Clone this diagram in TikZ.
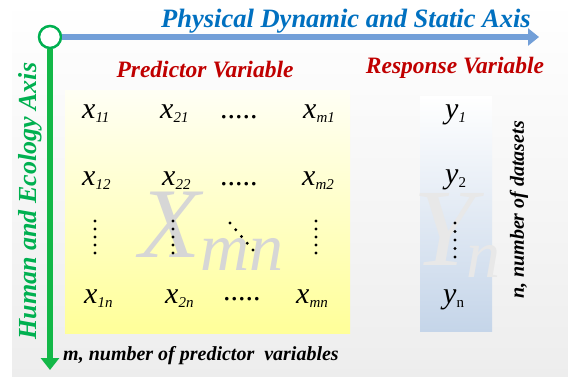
\documentclass[tikz,border=0pt]{standalone}
\usepackage{fontspec}
\setmainfont{Liberation Serif}
\usetikzlibrary{arrows.meta, positioning}

\definecolor{titleblue}{RGB}{0,112,192}
\definecolor{axisblue}{RGB}{114,159,216}
\definecolor{axisgreen}{RGB}{0,176,80}
\definecolor{labelred}{RGB}{192,0,0}
\definecolor{bigtext}{RGB}{214,214,214}
\definecolor{boxblue}{RGB}{197,213,233}

% matrix element: letter with a lowered index
\newcommand{\mvar}[2]{\textit{#1}\raisebox{-4pt}{\fontsize{15}{15}\selectfont\textit{#2}}}
\newcommand{\mvarup}[2]{\textit{#1}\raisebox{-4pt}{\fontsize{15}{15}\selectfont #2}}

\begin{document}
\begin{tikzpicture}[x=1pt, y=-1pt,
    heading/.style={font=\fontsize{23.5}{26}\selectfont\bfseries\itshape, text=labelred, inner sep=0pt, anchor=base},
    entry/.style={font=\fontsize{30}{32}\selectfont, inner sep=0pt, anchor=base west},
    note/.style={font=\fontsize{20}{22}\selectfont\bfseries\itshape, inner sep=0pt},
    bigvar/.style={text=bigtext, inner sep=0pt, anchor=base west}]
    \useasboundingbox (0,0) rectangle (568,376);

    % light grey page behind everything
    \fill[top color=white, bottom color=black!7] (12,0) rectangle (568,376);

    % shaded boxes for X and Y
    \fill[top color=yellow!4, bottom color=yellow!40] (65,90) rectangle (350,333);
    \fill[top color=white, bottom color=boxblue] (420,96) rectangle (492,331);

    % big faint names of the matrices
    \node[bigvar, font=\fontsize{100}{100}\selectfont\itshape] (bigx) at (139,257) {X\raisebox{-13pt}{\fontsize{68}{68}\selectfont mn}};
    \node[bigvar, text=black!9, font=\fontsize{110}{110}\selectfont\itshape] (bigy) at (413,265) {Y\kern-8pt\raisebox{-12pt}{\fontsize{68}{68}\selectfont n}};

    % the two axes, starting from the open circle
    \node[circle, draw=axisgreen, line width=2.5pt, fill=white, minimum size=22pt, inner sep=0pt] (origin) at (50,37) {};
    \coordinate (xtip) at (539,37);
    \coordinate (ytip) at (50,370);
    \draw[axisblue, line width=6pt, -{Triangle[length=11pt, width=17pt]}] (origin) -- (xtip);
    \draw[axisgreen!90!lime, line width=5.5pt, -{Triangle[length=12pt, width=18pt]}] (origin) -- (ytip);

    % axis titles
    \node[font=\fontsize{26.5}{30}\selectfont\bfseries\itshape, text=titleblue, inner sep=0pt, anchor=base] (xtitle) at (346,27) {Physical Dynamic and Static Axis};
    \node[font=\fontsize{26}{30}\selectfont\bfseries\itshape, text=axisgreen, inner sep=0pt, rotate=90] (ytitle) at (30,201) {Human and Ecology Axis};

    % headings
    \node[heading] (pred) at (205,77) {Predictor Variable};
    \node[heading] (resp) at (455,73) {Response Variable};

    % predictor entries
    \node[entry] (x11) at (82,118) {\mvar{x}{11}};
    \node[entry] (x21) at (160,118) {\mvar{x}{21}};
    \node[entry] (dots1) at (220,118) {.....};
    \node[entry] (xm1) at (303,118) {\mvar{x}{m1}};
    \node[entry] (x12) at (82,185) {\mvar{x}{12}};
    \node[entry] (x22) at (162,185) {\mvar{x}{22}};
    \node[entry] (dots2) at (220,185) {.....};
    \node[entry] (xm2) at (302,185) {\mvar{x}{m2}};
    \node[entry] (x1n) at (84,303) {\mvar{x}{1n}};
    \node[entry] (x2n) at (165,303) {\mvar{x}{2n}};
    \node[entry] (dotsn) at (223,300) {.....};
    \node[entry] (xmn) at (296,303) {\mvar{x}{mn}};

    % vertical and diagonal dots
    \foreach \cx in {95,173,316}
      \foreach \k in {0,...,4}
        \fill (\cx,221+8*\k) circle (1.6pt);
    \foreach \k in {0,...,4}
      \fill (230+5.75*\k,223+6.75*\k) circle (1.6pt);

    % response entries
    \node[entry] (y1) at (445,118) {\mvar{y}{1}};
    \node[entry] (y2) at (445,183) {\mvarup{y}{2}};
    \foreach \k in {0,...,4}
      \fill (455,223+8.5*\k) circle (1.6pt);
    \node[entry] (yn) at (443,303) {\mvarup{y}{n}};

    % sizes of the data
    \node[note, anchor=base west] (mcount) at (63,360) {m, number of predictor\ \ variables};
    \node[note, rotate=90] (ncount) at (519,210) {n, number of datasets};
\end{tikzpicture}
\end{document}
